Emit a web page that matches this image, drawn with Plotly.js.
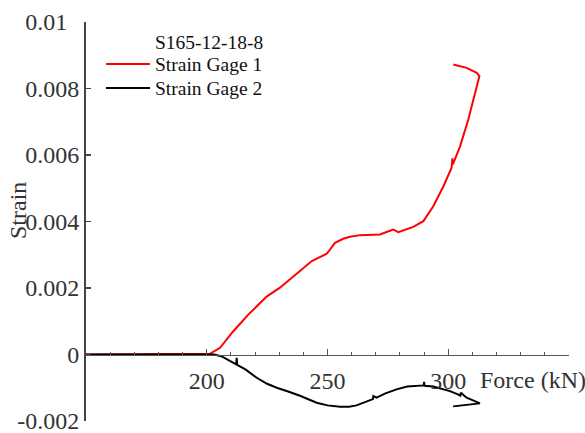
<!DOCTYPE html>
<html>
<head>
<meta charset="utf-8">
<script src="https://cdn.plot.ly/plotly-3.0.1.min.js"></script>
<style>html,body{margin:0;padding:0;background:#fff;}#chart{width:585px;height:433px;}</style>
</head>
<body>
<div id="chart"></div>
<script>
// Strain Gage 1 (red)
const force1 = [150, 170, 190, 198, 201.3, 205.5, 211.0, 217.2, 221.3, 224.8, 230.3, 235.2, 238.6, 243.5, 249.7, 253.1, 256.5, 259.3, 263.5, 271.7, 277.2, 279.3, 285.5, 289.7, 293.8, 298.0, 301.4, 301.7, 301.9, 304.9, 308.3, 311.1, 312.9, 311.8, 307.6, 302.1];
const strain1 = [0, 0.00001, 0.00001, 0.00002, 0.00002, 0.0002, 0.0007, 0.0012, 0.0015, 0.00174, 0.00201, 0.00231, 0.0025, 0.00281, 0.00303, 0.00336, 0.00348, 0.00354, 0.00359, 0.00361, 0.00376, 0.00368, 0.00384, 0.00401, 0.00446, 0.00506, 0.00562, 0.0059, 0.00572, 0.00626, 0.00707, 0.00782, 0.00837, 0.00847, 0.00862, 0.00872];
// Strain Gage 2 (black)
const force2 = [150, 190, 203, 206, 209, 212.2, 212.4, 212.6, 216, 220.7, 225, 229, 234, 238.6, 245.5, 250, 255.2, 259, 262, 266, 268.8, 269, 270.3, 274, 278.6, 283, 287, 289.8, 290, 290.2, 293.8, 297, 300.7, 304, 305, 305.2, 307.6, 311, 313.1, 302];
const strain2 = [0, 0, 0, -0.00005, -0.00018, -0.0003, -0.0001, -0.00031, -0.00045, -0.0007, -0.00088, -0.001, -0.00112, -0.00124, -0.00145, -0.00153, -0.00157, -0.00157, -0.00153, -0.00143, -0.00134, -0.00125, -0.0013, -0.00117, -0.00105, -0.00096, -0.00093, -0.00093, -0.00082, -0.00094, -0.00096, -0.00102, -0.0011, -0.0012, -0.00124, -0.00115, -0.0013, -0.0014, -0.00147, -0.00156];

const yTickVals = [-0.002, 0, 0.002, 0.004, 0.006, 0.008, 0.01];
const yTickText = ['-0.002', '0', '0.002', '0.004', '0.006', '0.008', '0.01\u00a0\u00a0'];
const xTickVals = [200, 250, 300];
const xTickText = ['200', '250', '300'];
const seriesNames = ['Strain Gage 1', 'Strain Gage 2'];
const seriesColors = ['#ff0000', '#000000'];
const chartTitle = 'S165-12-18-8';

const FONT = 'Liberation Serif, Times New Roman, serif';
const TXT = '#333';

const traces = [
  {x: force1, y: strain1, mode: 'lines', name: seriesNames[0], line: {color: seriesColors[0], width: 2}},
  {x: force2, y: strain2, mode: 'lines', name: seriesNames[1], line: {color: seriesColors[1], width: 2}}
];

// plot-area pixel helpers for legend placement (paper coords)
const PL = 86, PW = 483, PB = 421, PH = 399;
const px = v => (v - PL) / PW;
const py = v => (PB - v) / PH;

const legendRows = [64, 88];
const shapes = seriesNames.map((n, i) => ({
  type: 'line', xref: 'paper', yref: 'paper', x0: px(106), x1: px(150), y0: py(legendRows[i]), y1: py(legendRows[i]),
  line: {color: seriesColors[i], width: 2}
}));
const legendAnn = seriesNames.map((n, i) => ({
  text: n, xref: 'paper', yref: 'paper', x: px(153), y: py(legendRows[i]),
  xanchor: 'left', yanchor: 'middle', showarrow: false, font: {family: FONT, size: 19.5, color: '#111'}
}));

const yMin = -0.002, yMax = 0.01;
const layout = {
  width: 585, height: 433,
  margin: {l: 86, r: 16, t: 22, b: 12},
  paper_bgcolor: '#fff', plot_bgcolor: '#fff',
  showlegend: false,
  font: {family: FONT, color: TXT},
  xaxis: {
    range: [150, 350], anchor: 'free', position: (0 - yMin) / (yMax - yMin),
    showgrid: false, zeroline: false, showline: true, linecolor: '#555', linewidth: 1.5,
    tickmode: 'array', tickvals: xTickVals, ticktext: xTickText,
    ticks: 'inside', ticklen: 6, tickwidth: 1, tickcolor: '#555',
    minor: {dtick: 10, tick0: 150, ticks: 'inside', ticklen: 3, tickcolor: '#555', showgrid: false},
    tickfont: {family: FONT, size: 24, color: TXT},
    ticklabelstandoff: 4, ticklabeloverflow: 'allow'
  },
  yaxis: {
    range: [yMin, yMax], anchor: 'x',
    showgrid: false, zeroline: false, showline: true, linecolor: '#444', linewidth: 2,
    tickmode: 'array', tickvals: yTickVals, ticktext: yTickText,
    ticks: 'inside', ticklen: 5, tickwidth: 1.5, tickcolor: '#444',
    tickfont: {family: FONT, size: 24, color: TXT},
    ticklabeloverflow: 'allow'
  },
  shapes: shapes,
  annotations: [
    {text: chartTitle, xref: 'paper', yref: 'paper', x: px(153), y: py(42),
     xanchor: 'left', yanchor: 'middle', showarrow: false, font: {family: FONT, size: 19.5, color: '#111'}},
    ...legendAnn,
    {text: 'Strain', xref: 'paper', yref: 'paper', x: px(18), y: py(211),
     xanchor: 'center', yanchor: 'middle', textangle: -90, showarrow: false, font: {family: FONT, size: 24, color: TXT}},
    {text: 'Force (kN)', xref: 'paper', yref: 'paper', x: px(478), y: py(380),
     xanchor: 'left', yanchor: 'middle', showarrow: false, font: {family: FONT, size: 24, color: TXT}}
  ]
};

Plotly.newPlot('chart', traces, layout, {displayModeBar: false, staticPlot: true});
</script>
</body>
</html>
